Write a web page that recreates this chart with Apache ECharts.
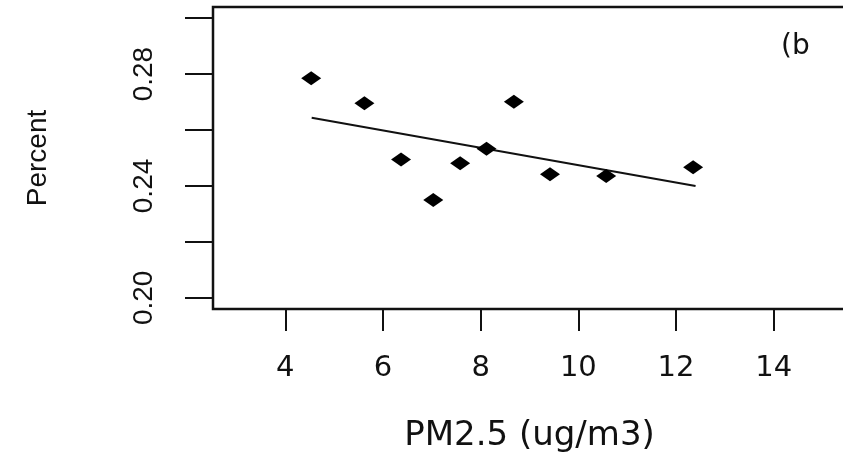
<!DOCTYPE html>
<html>
<head>
<meta charset="utf-8">
<script src="https://cdn.jsdelivr.net/npm/echarts@6/dist/echarts.min.js"></script>
<style>
  html, body { margin: 0; padding: 0; background: #fff; }
  #chart { width: 843px; height: 453px; }
</style>
</head>
<body>
<div id="chart"></div>
<script>
// PM2.5 vs Percent (panel b)
const pm25 = [4.53, 5.62, 6.37, 7.03, 7.58, 8.12, 8.68, 9.42, 10.57, 12.35]
const percent = [0.2785, 0.2696, 0.2495, 0.2350, 0.2481, 0.2533, 0.2701, 0.2442, 0.2436, 0.2467]

// fitted line (start / end)
const fitX = [4.54, 12.40]
const fitY = [0.2644, 0.2400]

const xTicks = [4, 6, 8, 10, 12, 14]
const yTicks = [0.20, 0.22, 0.24, 0.26, 0.28, 0.30]
const yTickLabels = [0.20, 0.24, 0.28]

const INK = '#111'

const chart = echarts.init(document.getElementById('chart'), null, { renderer: 'canvas' })

chart.setOption({
  animation: false,
  backgroundColor: '#fff',
  title: {
    text: '(b',
    left: 781,
    top: 33,
    padding: 0,
    textStyle: { color: INK, fontSize: 28, fontWeight: 'normal', fontFamily: 'DejaVu Sans' },
  },
  grid: {
    left: 213, top: 7, width: 633, height: 302,
    outerBoundsMode: 'none',
    containLabel: false,
    show: true, borderColor: INK, borderWidth: 2.5, backgroundColor: 'transparent',
  },
  xAxis: {
    type: 'value',
    min: 2.52,
    max: 15.48,
    name: 'PM2.5 (ug/m3)',
    nameLocation: 'middle',
    nameGap: 110,
    nameTextStyle: { color: INK, fontSize: 34, fontFamily: 'DejaVu Sans' },
    axisLine: { show: false },
    axisTick: { show: true, customValues: xTicks, length: 22, lineStyle: { color: INK, width: 2 } },
    axisLabel: { customValues: xTicks, margin: 45, color: INK, fontSize: 29, fontFamily: 'DejaVu Sans' },
    splitLine: { show: false },
  },
  yAxis: {
    type: 'value',
    min: 0.196,
    max: 0.304,
    name: 'Percent',
    nameLocation: 'middle',
    nameRotate: 90,
    nameGap: 161,
    nameTextStyle: { color: INK, fontSize: 28, fontFamily: 'Liberation Sans' },
    axisLine: { show: false },
    axisTick: { show: true, customValues: yTicks, length: 28, lineStyle: { color: INK, width: 2 } },
    axisLabel: {
      customValues: yTickLabels,
      rotate: 90,
      margin: 55,
      color: INK,
      fontSize: 28,
      fontFamily: 'Liberation Sans',
      formatter: (v) => Number(v).toFixed(2),
    },
    splitLine: { show: false },
  },
  series: [
    {
      name: 'fit',
      type: 'line',
      data: fitX.map((x, i) => [x, fitY[i]]),
      showSymbol: false,
      lineStyle: { color: INK, width: 2 },
      z: 2,
    },
    {
      name: 'obs',
      type: 'scatter',
      symbol: 'diamond',
      symbolSize: [20, 14],
      itemStyle: { color: '#000', opacity: 1 },
      data: pm25.map((x, i) => [x, percent[i]]),
      z: 3,
    },
  ],
})
</script>
</body>
</html>
